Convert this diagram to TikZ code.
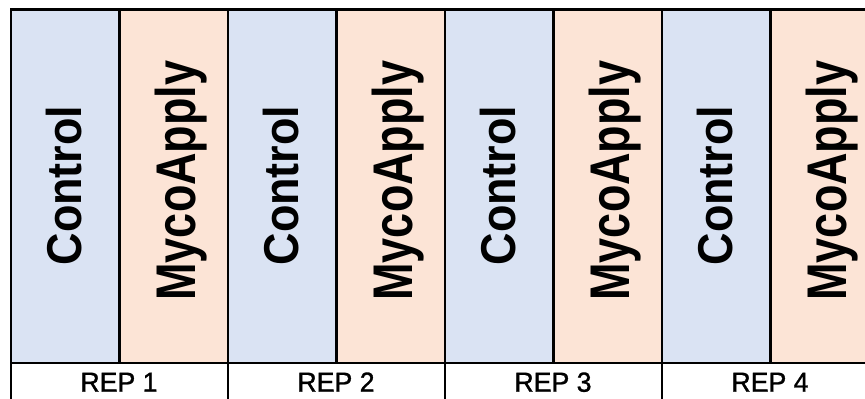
\documentclass[tikz,border=0pt]{standalone}
\usepackage{graphicx}
\usepackage{fontspec}
\setmainfont{Liberation Sans}
\newfontfamily\repfont[FakeBold=1.2]{Liberation Sans}
\definecolor{ctrlblue}{RGB}{218,227,243}
\definecolor{mycopeach}{RGB}{252,228,214}
\begin{document}
\begin{tikzpicture}[x=1pt,y=1pt,
  gridline/.style={line width=2.6pt, black, line cap=rect},
  ctrlfill/.style={fill=ctrlblue},
  mycofill/.style={fill=mycopeach},
  celltext/.style={rotate=90, anchor=base, inner sep=0pt, font=\bfseries},
  replabel/.style={anchor=base, inner sep=0pt, font=\repfont\fontsize{27.5}{28}\selectfont}]
\useasboundingbox (0,0) rectangle (865,399);
\clip (0,0) rectangle (865,399);
\fill[white] (0,0) rectangle (865,399);
\foreach \i in {0,...,3} {
  \pgfmathsetmacro{\xa}{11+217*\i}
  \pgfmathsetmacro{\xb}{119.5+217*\i}
  \fill[ctrlfill] (\xa,36) rectangle ++(108.5,353.5);
  \fill[mycofill] (\xb,36) rectangle ++(108.5,353.5);
}
\foreach \i in {0,...,3} {
  \pgfmathsetmacro{\xa}{11+217*\i}
  \pgfmathsetmacro{\xb}{119.5+217*\i}
  \pgfmathsetmacro{\xm}{119.5+217*\i}
  \pgfmathtruncatemacro{\n}{\i+1}
  \node[celltext] (ctrl\n) at (\xa+70,213.5) {\fontsize{48.9}{50}\selectfont\scalebox{0.92}[1]{Control}};
  \node[celltext] (myco\n) at (\xb+75.5,218.5) {\fontsize{55.9}{56}\selectfont\scalebox{0.805}[1]{MycoApply}};
  \node[replabel] (rep\n) at (\xm-0.5,7.3) {\scalebox{0.97}[1]{REP \n}};
}
% grid lines
\draw[gridline] (11,-2) -- (11,389.5) -- (870,389.5);
\draw[gridline] (11,36) -- (870,36);
\foreach \k in {1,...,7} {
  \draw[gridline] (11+108.5*\k,36) -- (11+108.5*\k,389.5);
}
\foreach \k in {1,2,3} {
  \draw[gridline] (11+217*\k,-2) -- (11+217*\k,36);
}
\end{tikzpicture}
\end{document}
